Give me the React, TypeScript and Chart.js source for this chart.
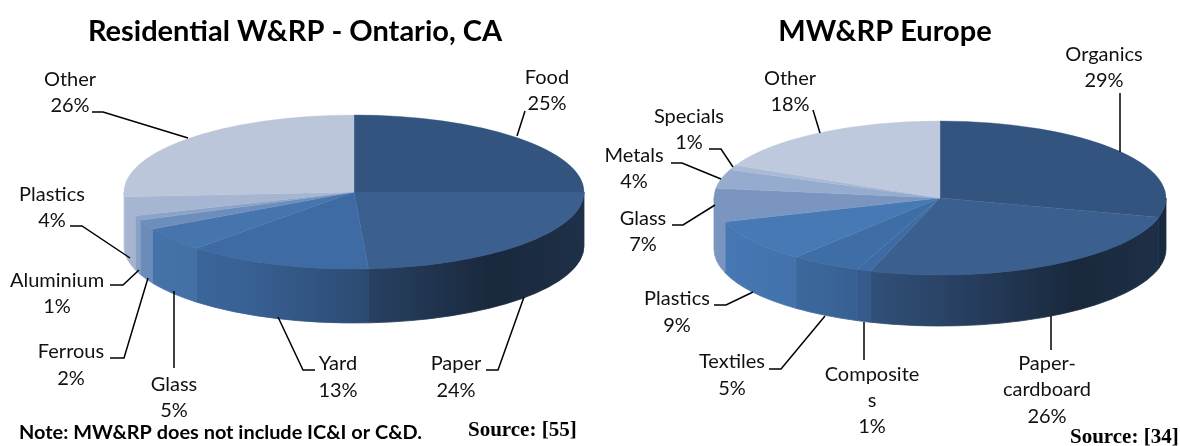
import React, { useEffect, useRef } from "react";
import { Chart, registerables } from "chart.js";

Chart.register(...registerables);

const LABEL_FONT = '20px Lato, "Open Sans", sans-serif';

// ---- Data ----
const ontarioCategories = ["Food", "Paper", "Yard", "Glass", "Ferrous", "Aluminium", "Plastics", "Other"];
const ontarioValues = [25, 24, 13, 5, 2, 1, 4, 26];
const ontarioColors = ["#32547f", "#3b5f8f", "#3e6ba3", "#4675ad", "#6d8ebc", "#8aa3c8", "#a6b5d1", "#bbc6da"];

const europeCategories = ["Organics", "Paper-cardboard", "Composites", "Textiles", "Plastics", "Glass", "Metals", "Specials", "Other"];
const europeValues = [29, 26, 1, 5, 9, 7, 4, 1, 18];
const europeColors = ["#32547f", "#3b5f8f", "#3e6ba3", "#3f6ea6", "#4779b5", "#7a96c0", "#96acce", "#a9bad6", "#bfc9dd"];

// ---- Layout of the annotation texts (page pixels) ----
type Callout = { x: number; ys: number[]; lines: string[]; leader: number[][] };

const ontarioCallouts: Callout[] = [
  { x: 547, ys: [78, 104], lines: ["Food"], leader: [[525, 111], [517, 136]] },
  { x: 456, ys: [364, 391], lines: ["Paper"], leader: [[486, 370], [498, 370], [524, 297]] },
  { x: 338, ys: [364, 391], lines: ["Yard"], leader: [[315, 370], [303, 370], [278, 317]] },
  { x: 174, ys: [385, 411], lines: ["Glass"], leader: [[174, 368], [174, 291]] },
  { x: 71, ys: [352, 379], lines: ["Ferrous"], leader: [[110, 358], [124, 358], [148, 278]] },
  { x: 57, ys: [281, 307], lines: ["Aluminium"], leader: [[110, 285], [123, 285], [139, 270]] },
  { x: 52, ys: [195, 221], lines: ["Plastics"], leader: [[70, 226], [82, 226], [130, 258]] },
  { x: 70, ys: [80, 106], lines: ["Other"], leader: [[92, 112], [103, 112], [188, 138]] },
];

const europeCallouts: Callout[] = [
  { x: 1104, ys: [55, 81], lines: ["Organics"], leader: [[1120, 93], [1120, 152]] },
  { x: 1047, ys: [364, 390, 417], lines: ["Paper-", "cardboard"], leader: [[1051, 350], [1051, 316]] },
  { x: 872, ys: [375, 401, 427], lines: ["Composite", "s"], leader: [[864, 360], [864, 322]] },
  { x: 732, ys: [362, 389], lines: ["Textiles"], leader: [[769, 369], [781, 369], [825, 316]] },
  { x: 677, ys: [299, 326], lines: ["Plastics"], leader: [[714, 305], [726, 305], [753, 292]] },
  { x: 643, ys: [219, 245], lines: ["Glass"], leader: [[672, 225], [683, 225], [715, 205]] },
  { x: 634, ys: [156, 182], lines: ["Metals"], leader: [[671, 163], [682, 163], [721, 179]] },
  { x: 689, ys: [117, 143], lines: ["Specials"], leader: [[709, 149], [721, 149], [733, 167]] },
  { x: 790, ys: [79, 105], lines: ["Other"], leader: [[813, 110], [820, 133]] },
];

type Note = { text: string; x: number; y: number; font: string };
const ontarioNotes: Note[] = [
  { text: "Note: MW&RP does not include IC&I or C&D.", x: 19, y: 433, font: 'bold 19.9px Lato, sans-serif' },
  { text: "Source: [55]", x: 468, y: 431, font: 'bold 21px "Liberation Serif", serif' },
];
const europeNotes: Note[] = [
  { text: "Source: [34]", x: 1070, y: 438, font: 'bold 21px "Liberation Serif", serif' },
];

// side wall brightness, left to right across the pie
const WALL_SHADE: number[][] = [[0, 1], [0.25, 0.92], [0.5, 0.72], [0.8, 0.42], [1, 0.5]];

function shade(hex: string, f: number) {
  const n = parseInt(hex.slice(1), 16);
  const c = [(n >> 16) & 255, (n >> 8) & 255, n & 255].map((v) => Math.round(v * f));
  return `rgb(${c[0]},${c[1]},${c[2]})`;
}

type Geometry = { cx: number; cy: number; rx: number; ry: number; depth: number; offsetX: number };

function piePlugin(g: Geometry, callouts: Callout[], notes: Note[], values: number[]) {
  const X = g.cx - g.offsetX;
  return {
    id: "pie3d",
    beforeDatasetsDraw(chart: any) {
      const ctx = chart.ctx;
      const meta = chart.getDatasetMeta(0);
      const colors = chart.data.datasets[0].backgroundColor as string[];
      meta.data.forEach((arc: any, i: number) => {
        const lo = Math.max(arc.startAngle, 0);
        const hi = Math.min(arc.endAngle, Math.PI);
        if (lo >= hi) return;
        const grad = ctx.createLinearGradient(X - g.rx, 0, X + g.rx, 0);
        WALL_SHADE.forEach(([u, f]) => grad.addColorStop(u, shade(colors[i], f)));
        ctx.beginPath();
        ctx.ellipse(X, g.cy, g.rx, g.ry, 0, lo, hi);
        ctx.ellipse(X, g.cy + g.depth, g.rx, g.ry, 0, hi, lo, true);
        ctx.closePath();
        ctx.fillStyle = grad;
        ctx.strokeStyle = grad;
        ctx.lineWidth = 0.8;
        ctx.fill();
        ctx.stroke();
      });
      const first = meta.data[0];
      const R = first.outerRadius;
      ctx.save();
      ctx.translate(X, g.cy);
      ctx.scale(g.rx / R, g.ry / R);
      ctx.translate(-first.x, -first.y);
    },
    afterDatasetsDraw(chart: any) {
      chart.ctx.restore();
    },
    afterDraw(chart: any) {
      const ctx = chart.ctx;
      ctx.save();
      ctx.textAlign = "center";
      ctx.textBaseline = "middle";
      ctx.font = LABEL_FONT;
      ctx.fillStyle = "#111";
      ctx.strokeStyle = "#000";
      ctx.lineWidth = 1.5;
      callouts.forEach((c, i) => {
        const texts = [...c.lines, `${values[i]}%`];
        texts.forEach((t, k) => ctx.fillText(t, c.x - g.offsetX, c.ys[k]));
        ctx.beginPath();
        c.leader.forEach(([x, y], k) => {
          if (k === 0) ctx.moveTo(x - g.offsetX, y);
          else ctx.lineTo(x - g.offsetX, y);
        });
        ctx.stroke();
      });
      ctx.textAlign = "left";
      ctx.fillStyle = "#000";
      notes.forEach((n) => {
        ctx.font = n.font;
        ctx.fillText(n.text, n.x - g.offsetX, n.y);
      });
      ctx.restore();
    },
  };
}

function makeChart(
  canvas: HTMLCanvasElement,
  title: string,
  categories: string[],
  values: number[],
  colors: string[],
  plugin: any,
) {
  return new Chart(canvas, {
    type: "pie",
    data: {
      labels: categories,
      datasets: [{ data: values, backgroundColor: colors, borderColor: colors, borderWidth: 0.5 }],
    },
    options: {
      responsive: false,
      animation: false,
      events: [],
      plugins: {
        legend: { display: false },
        tooltip: { enabled: false },
        title: {
          display: true,
          text: title,
          color: "#000",
          font: { family: "Lato, sans-serif", size: 29, weight: "bold" },
          padding: { top: 14, bottom: 10 },
        },
      },
    },
    plugins: [plugin],
  } as any);
}

const ontarioGeometry: Geometry = { cx: 354, cy: 192, rx: 230, ry: 77, depth: 54, offsetX: 0 };
const europeGeometry: Geometry = { cx: 940, cy: 198, rx: 226, ry: 77, depth: 51, offsetX: 590 };

export default function App() {
  const leftRef = useRef<HTMLCanvasElement>(null);
  const rightRef = useRef<HTMLCanvasElement>(null);

  useEffect(() => {
    const a = makeChart(
      leftRef.current!,
      "Residential W&RP - Ontario, CA",
      ontarioCategories,
      ontarioValues,
      ontarioColors,
      piePlugin(ontarioGeometry, ontarioCallouts, ontarioNotes, ontarioValues),
    );
    const b = makeChart(
      rightRef.current!,
      "MW&RP Europe",
      europeCategories,
      europeValues,
      europeColors,
      piePlugin(europeGeometry, europeCallouts, europeNotes, europeValues),
    );
    return () => {
      a.destroy();
      b.destroy();
    };
  }, []);

  return (
    <div style={{ position: "fixed", left: 0, top: 0, width: 1180, height: 446, background: "#fff" }}>
      <canvas ref={leftRef} width={590} height={446} style={{ position: "absolute", left: 0, top: 0 }} />
      <canvas ref={rightRef} width={590} height={446} style={{ position: "absolute", left: 590, top: 0 }} />
    </div>
  );
}
